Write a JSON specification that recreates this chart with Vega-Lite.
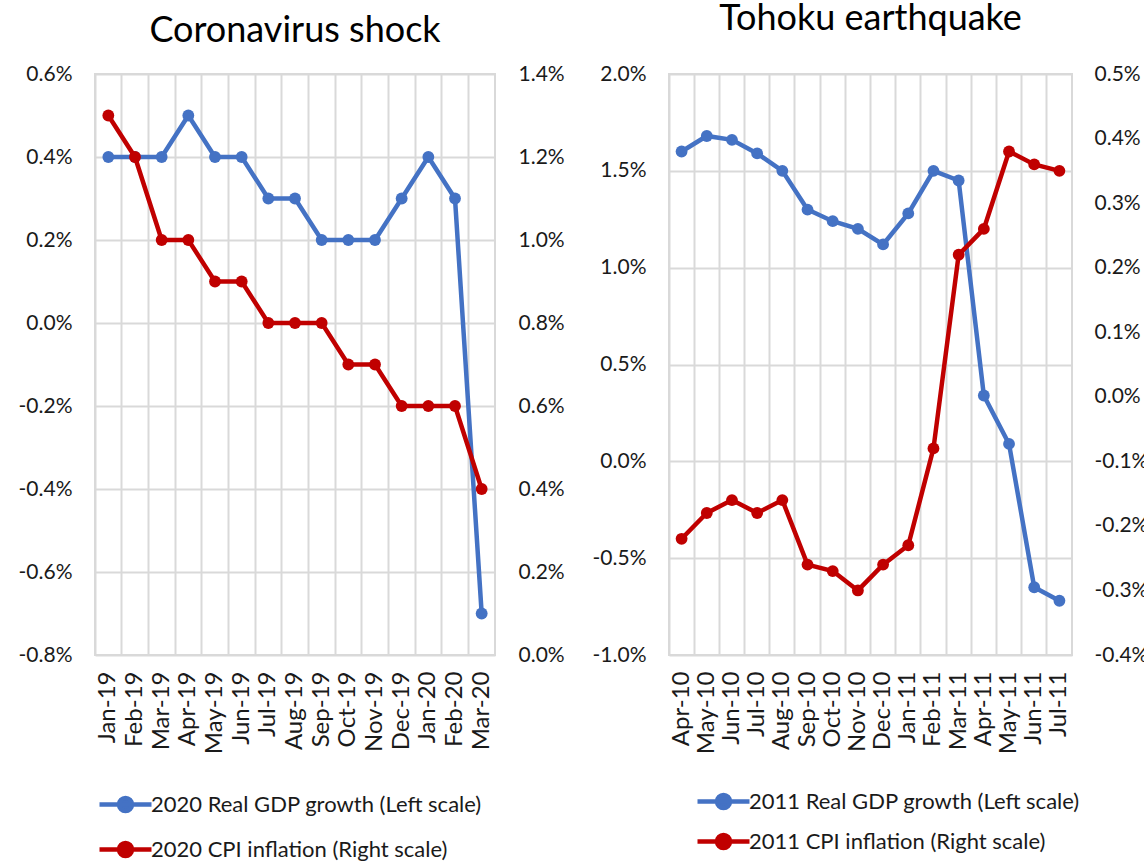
{
  "$schema": "https://vega.github.io/schema/vega-lite/v6.json",
  "padding": {"left": 17, "top": 0, "right": 0, "bottom": 0},
  "autosize": {"type": "pad"},
  "background": "white",
  "spacing": 25,
  "config": {
    "font": "Lato",
    "view": {"stroke": "#d9d9d9", "strokeWidth": 2},
    "axis": {"labelFont": "Lato", "labelFontSize": 21, "labelColor": "#1a1a1a", "ticks": false, "domain": false, "gridColor": "#d9d9d9", "gridWidth": 2},
    "legend": {"labelFont": "Lato", "labelFontSize": 22, "labelColor": "#1a1a1a", "labelLimit": 600, "symbolStrokeWidth": 4.5, "symbolSize": 676, "symbolType": "M-2,0H2M-0.5,0A0.5,0.5 0 1,0 0.5,0A0.5,0.5 0 1,0 -0.5,0Z", "labelOffset": 10, "direction": "vertical", "orient": "none"},
    "title": {"font": "Lato", "fontSize": 36, "fontWeight": "normal", "color": "#000000", "frame": "group"}
  },
  "datasets": {
    "corona": [
      {"month": "Jan-19", "gdp": 0.4, "cpi": 1.3},
      {"month": "Feb-19", "gdp": 0.4, "cpi": 1.2},
      {"month": "Mar-19", "gdp": 0.4, "cpi": 1.0},
      {"month": "Apr-19", "gdp": 0.5, "cpi": 1.0},
      {"month": "May-19", "gdp": 0.4, "cpi": 0.9},
      {"month": "Jun-19", "gdp": 0.4, "cpi": 0.9},
      {"month": "Jul-19", "gdp": 0.3, "cpi": 0.8},
      {"month": "Aug-19", "gdp": 0.3, "cpi": 0.8},
      {"month": "Sep-19", "gdp": 0.2, "cpi": 0.8},
      {"month": "Oct-19", "gdp": 0.2, "cpi": 0.7},
      {"month": "Nov-19", "gdp": 0.2, "cpi": 0.7},
      {"month": "Dec-19", "gdp": 0.3, "cpi": 0.6},
      {"month": "Jan-20", "gdp": 0.4, "cpi": 0.6},
      {"month": "Feb-20", "gdp": 0.3, "cpi": 0.6},
      {"month": "Mar-20", "gdp": -0.7, "cpi": 0.4}
    ],
    "tohoku": [
      {"month": "Apr-10", "gdp": 1.60, "cpi": -0.22},
      {"month": "May-10", "gdp": 1.68, "cpi": -0.18},
      {"month": "Jun-10", "gdp": 1.66, "cpi": -0.16},
      {"month": "Jul-10", "gdp": 1.59, "cpi": -0.18},
      {"month": "Aug-10", "gdp": 1.50, "cpi": -0.16},
      {"month": "Sep-10", "gdp": 1.30, "cpi": -0.26},
      {"month": "Oct-10", "gdp": 1.24, "cpi": -0.27},
      {"month": "Nov-10", "gdp": 1.20, "cpi": -0.30},
      {"month": "Dec-10", "gdp": 1.12, "cpi": -0.26},
      {"month": "Jan-11", "gdp": 1.28, "cpi": -0.23},
      {"month": "Feb-11", "gdp": 1.50, "cpi": -0.08},
      {"month": "Mar-11", "gdp": 1.45, "cpi": 0.22},
      {"month": "Apr-11", "gdp": 0.34, "cpi": 0.26},
      {"month": "May-11", "gdp": 0.09, "cpi": 0.38},
      {"month": "Jun-11", "gdp": -0.65, "cpi": 0.36},
      {"month": "Jul-11", "gdp": -0.72, "cpi": 0.35}
    ]
  },
  "resolve": {"scale": {"color": "independent"}, "legend": {"color": "independent"}},
  "hconcat": [
    {
      "title": {"text": "Coronavirus shock", "offset": 13},
      "width": 400,
      "height": 581,
      "data": {"name": "corona"},
      "layer": [
        {
          "mark": {"type": "line", "strokeWidth": 4.5, "point": {"filled": true, "size": 140}},
          "encoding": {
            "x": {"field": "month", "type": "ordinal", "sort": null, "scale": {"type": "band", "paddingInner": 0, "paddingOuter": 0}, "axis": {"title": null, "labelAngle": -90, "labelAlign": "right", "labelBaseline": "middle", "labelPadding": 16, "labelFontSize": 24, "grid": false}},
            "y": {"field": "gdp", "type": "quantitative", "scale": {"domain": [-0.8, 0.6], "nice": false, "zero": false}, "axis": {"orient": "left", "title": null, "values": [-0.8, -0.6, -0.4, -0.2, 0, 0.2, 0.4, 0.6], "labelExpr": "replace(format(datum.value, '.1f'), '\u2212', '-') + '%'", "labelPadding": 23, "grid": true}},
            "color": {"datum": "2020 Real GDP growth (Left scale)", "type": "nominal", "scale": {"domain": ["2020 Real GDP growth (Left scale)", "2020 CPI inflation (Right scale)"], "range": ["#4472C4", "#C00000"]}, "legend": {"title": null, "legendX": 15, "legendY": 715, "rowPadding": 14}}
          }
        },
        {
          "mark": {"type": "line", "strokeWidth": 4.5, "point": {"filled": true, "size": 140}},
          "encoding": {
            "x": {"field": "month", "type": "ordinal", "sort": null, "axis": {"title": null, "labels": false, "grid": true, "bandPosition": 0}},
            "y": {"field": "cpi", "type": "quantitative", "scale": {"domain": [0, 1.4], "nice": false, "zero": false}, "axis": {"orient": "right", "title": null, "values": [0, 0.2, 0.4, 0.6, 0.8, 1.0, 1.2, 1.4], "labelExpr": "replace(format(datum.value, '.1f'), '\u2212', '-') + '%'", "labelPadding": 23, "grid": false}},
            "color": {"datum": "2020 CPI inflation (Right scale)", "type": "nominal"}
          }
        }
      ],
      "resolve": {"scale": {"y": "independent"}, "axis": {"x": "independent", "y": "independent"}}
    },
    {
      "title": {"text": "Tohoku earthquake", "offset": 25},
      "width": 403,
      "height": 581,
      "data": {"name": "tohoku"},
      "layer": [
        {
          "mark": {"type": "line", "strokeWidth": 4.5, "point": {"filled": true, "size": 140}},
          "encoding": {
            "x": {"field": "month", "type": "ordinal", "sort": null, "scale": {"type": "band", "paddingInner": 0, "paddingOuter": 0}, "axis": {"title": null, "labelAngle": -90, "labelAlign": "right", "labelBaseline": "middle", "labelPadding": 16, "labelFontSize": 24, "grid": false}},
            "y": {"field": "gdp", "type": "quantitative", "scale": {"domain": [-1.0, 2.0], "nice": false, "zero": false}, "axis": {"orient": "left", "title": null, "values": [-1.0, -0.5, 0, 0.5, 1.0, 1.5, 2.0], "labelExpr": "replace(format(datum.value, '.1f'), '\u2212', '-') + '%'", "labelPadding": 23, "grid": true}},
            "color": {"datum": "2011 Real GDP growth (Left scale)", "type": "nominal", "scale": {"domain": ["2011 Real GDP growth (Left scale)", "2011 CPI inflation (Right scale)"], "range": ["#4472C4", "#C00000"]}, "legend": {"title": null, "legendX": 39, "legendY": 712, "rowPadding": 9}}
          }
        },
        {
          "mark": {"type": "line", "strokeWidth": 4.5, "point": {"filled": true, "size": 140}},
          "encoding": {
            "x": {"field": "month", "type": "ordinal", "sort": null, "axis": {"title": null, "labels": false, "grid": true, "bandPosition": 0}},
            "y": {"field": "cpi", "type": "quantitative", "scale": {"domain": [-0.4, 0.5], "nice": false, "zero": false}, "axis": {"orient": "right", "title": null, "values": [-0.4, -0.3, -0.2, -0.1, 0, 0.1, 0.2, 0.3, 0.4, 0.5], "labelExpr": "replace(format(datum.value, '.1f'), '\u2212', '-') + '%'", "labelPadding": 22, "grid": false}},
            "color": {"datum": "2011 CPI inflation (Right scale)", "type": "nominal"}
          }
        }
      ],
      "resolve": {"scale": {"y": "independent"}, "axis": {"x": "independent", "y": "independent"}}
    }
  ]
}
